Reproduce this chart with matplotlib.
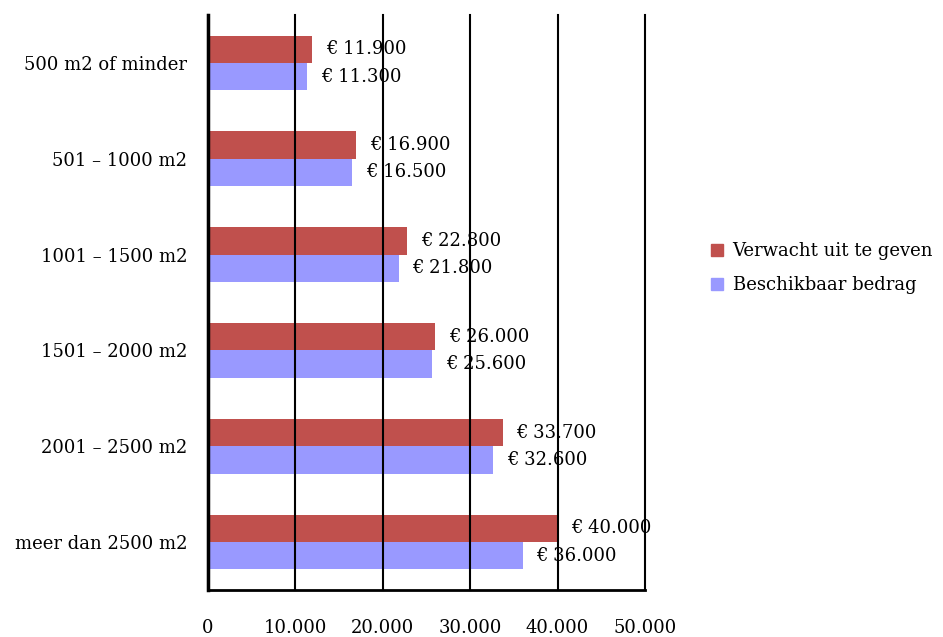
import matplotlib.pyplot as plt
import matplotlib as mpl
import numpy as np

categories = ["500 m2 of minder", "501 \u2013 1000 m2", "1001 \u2013 1500 m2",
              "1501 \u2013 2000 m2", "2001 \u2013 2500 m2", "meer dan 2500 m2"]
verwacht = [11900, 16900, 22800, 26000, 33700, 40000]
beschikbaar = [11300, 16500, 21800, 25600, 32600, 36000]
series_names = ["Verwacht uit te geven", "Beschikbaar bedrag"]
x_ticks = [0, 10000, 20000, 30000, 40000, 50000]

RED = "#C0504D"
BLUE = "#9999FF"
FS = 13

plt.rcParams["font.family"] = ["DejaVu Serif"]
plt.rcParams["font.size"] = FS


def fmt_nl(v):
    # Dutch thousands separator
    return f"{v:,.0f}".replace(",", ".")


figure = plt.figure(figsize=(9.43, 6.37), dpi=100)
axis = figure.add_axes([0.2206, 0.0738, 0.684 - 0.2206, 0.9765 - 0.0738])

y = np.arange(len(categories))
bar_h = 0.285

red_bars = axis.barh(y - bar_h / 2, verwacht, height=bar_h, color=RED, label=series_names[0], zorder=1)
blue_bars = axis.barh(y + bar_h / 2, beschikbaar, height=bar_h, color=BLUE, label=series_names[1], zorder=1)

# Data labels to the right of each bar
for bars, vals in [(red_bars, verwacht), (blue_bars, beschikbaar)]:
    for b, v in zip(bars, vals):
        axis.annotate(f"\u20ac {fmt_nl(v)}", (v, b.get_y() + b.get_height() / 2),
                      xytext=(10, 0), textcoords="offset points",
                      ha="left", va="center", fontsize=FS, zorder=3)

axis.set_xlim(0, 50000)
axis.set_ylim(len(categories) - 0.5, -0.5)
axis.set_xticks(x_ticks)
axis.set_xticklabels([fmt_nl(t) for t in x_ticks])
axis.set_yticks(y)
axis.set_yticklabels(categories)
axis.tick_params(axis="x", length=0, pad=21)
axis.tick_params(axis="y", length=0, pad=15)

axis.grid(axis="x", color="black", linewidth=1.5, zorder=2)
axis.set_axisbelow(False)
for line in axis.get_xgridlines():
    line.set_clip_on(False)
for s in ["top", "right"]:
    axis.spines[s].set_visible(False)
axis.spines["left"].set_linewidth(2.5)
axis.spines["bottom"].set_linewidth(2)
axis.spines["left"].set_zorder(4)

handles = [mpl.lines.Line2D([], [], color=c, marker="s", markersize=9, linestyle="None")
           for c in [RED, BLUE]]
figure.legend(handles, series_names, loc="center left", bbox_to_anchor=(0.753, 0.579),
              frameon=False, borderpad=0, borderaxespad=0, handlelength=0.8,
              handletextpad=0.45, labelspacing=0.9, fontsize=FS)

plt.savefig("out.png", dpi=100)
